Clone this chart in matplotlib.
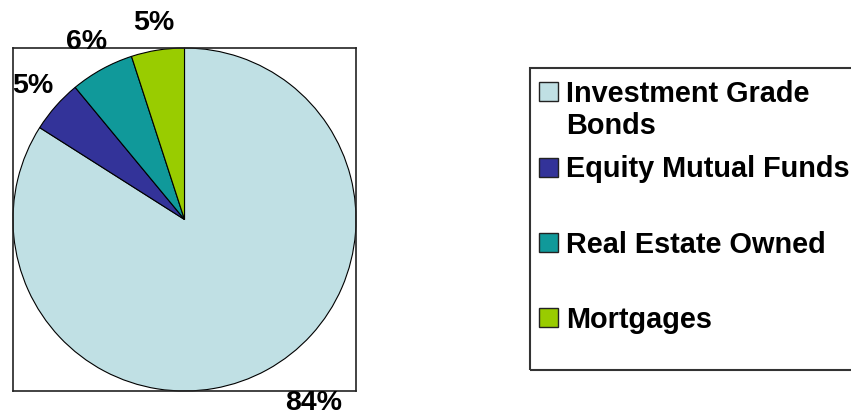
import numpy as np
import matplotlib.pyplot as plt
from matplotlib.patches import Rectangle

# asset mix of the portfolio
categories = ['Investment Grade\nBonds', 'Equity Mutual Funds', 'Real Estate Owned', 'Mortgages']
shares = [84, 5, 6, 5]
colors = ['#c0e0e4', '#333399', '#10999a', '#99cc00']

plt.rcParams['font.family'] = ['Liberation Sans', 'DejaVu Sans']
plt.rcParams['font.weight'] = 'bold'

W, H = 851, 415
fig = plt.figure(figsize=(W / 100, H / 100), dpi=100)
ax = fig.add_axes([13 / W, 1 - 391 / H, 343 / W, 343 / H])

wedges, _ = ax.pie(shares, colors=colors, startangle=90, counterclock=False,
                   wedgeprops=dict(edgecolor='black', linewidth=0.8))
ax.set_xlim(-1, 1)
ax.set_ylim(-1, 1)
ax.set_xticks([])
ax.set_yticks([])
ax.set_frame_on(True)
for s in ax.spines.values():
    s.set_linewidth(1.2)
    s.set_color('#222222')

# percentage labels outside the wedges
dist = [1.22, 1.18, 1.18, 1.16]
align = ['left', 'center', 'center', 'center']
for w, v, d, ha in zip(wedges, shares, dist, align):
    mid = np.deg2rad((w.theta1 + w.theta2) / 2)
    ax.text(d * np.cos(mid), d * np.sin(mid), f'{v}%', ha=ha, va='center',
            fontsize=20.5, fontweight='bold', clip_on=False)

# legend box, drawn by hand so it runs off the right edge
fig.patches.append(Rectangle((530 / W, 1 - 370 / H), 400 / W, 302 / H,
                             transform=fig.transFigure, fill=False,
                             edgecolor='#333333', linewidth=1.5))
step = 75.3
for i, (w, lab) in enumerate(zip(wedges, categories)):
    yc = 92 + i * step
    fig.patches.append(Rectangle((539 / W, 1 - (yc + 9.5) / H), 19 / W, 19 / H,
                                 transform=fig.transFigure,
                                 facecolor=w.get_facecolor(),
                                 edgecolor='#222222', linewidth=1.0))
    fig.text(566 / W, 1 - (yc - 12) / H, lab, ha='left', va='top',
             fontsize=20.8, fontweight='bold', linespacing=1.2)

fig.savefig('out.png', dpi=100)
